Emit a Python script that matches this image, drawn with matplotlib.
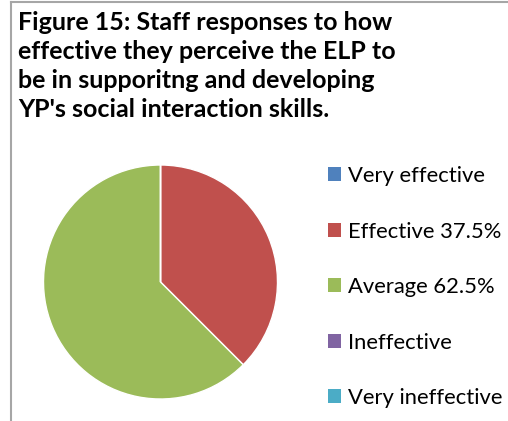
import matplotlib
matplotlib.use("Agg")
import matplotlib.pyplot as plt
from matplotlib.patches import Patch

categories = ["Very effective", "Effective", "Average", "Ineffective", "Very ineffective"]
values = [0.0, 37.5, 62.5, 0.0, 0.0]
colors = ["#4F81BD", "#C0504D", "#9BBB59", "#8064A2", "#4BACC6"]
title = ("Figure 15: Staff responses to how\n"
         "effective they perceive the ELP to\n"
         "be in supporitng and developing\n"
         "YP's social interaction skills.")

W, H = 508, 421
DPI = 100
plt.rcParams["font.family"] = ["Lato", "DejaVu Sans"]

fig = plt.figure(figsize=(W / DPI, H / DPI), dpi=DPI)
fig.patch.set_facecolor("white")

def px(x, y):
    return x / W, 1 - y / H

# frame lines at top and left
fig.add_artist(plt.Line2D([11 / W, 11 / W], [0, 1 - 2 / H], color="#a6a6a6", lw=1.5))
fig.add_artist(plt.Line2D([11 / W, 1], [1 - 2 / H, 1 - 2 / H], color="#a6a6a6", lw=1.5))

# title
tx, ty = px(18, 11)
fig.text(tx, ty, title, ha="left", va="top", fontsize=18, fontweight="bold",
         color="black", linespacing=1.32)

# pie
cx, cy, r = 160.5, 282, 117
ax = fig.add_axes([(cx - r) / W, (H - cy - r) / H, 2 * r / W, 2 * r / H])
ax.pie(values, colors=colors, startangle=90, counterclock=False, radius=1,
       wedgeprops=dict(edgecolor="white", linewidth=1))
ax.set_xlim(-1, 1)
ax.set_ylim(-1, 1)
ax.set_aspect("equal")
ax.axis("off")

labels = [f"{c} {v:g}%" if v > 0 else c for c, v in zip(categories, values)]
handles = [Patch(facecolor=col, edgecolor="none") for col in colors]
lx, ly = px(328, 166)
fig.legend(handles, labels, loc="upper left", bbox_to_anchor=(lx, ly),
           frameon=False, fontsize=15.8, handlelength=0.6, handleheight=0.6,
           handletextpad=0.3, labelspacing=1.62, borderpad=0, borderaxespad=0)

fig.savefig("out.png", dpi=DPI)
